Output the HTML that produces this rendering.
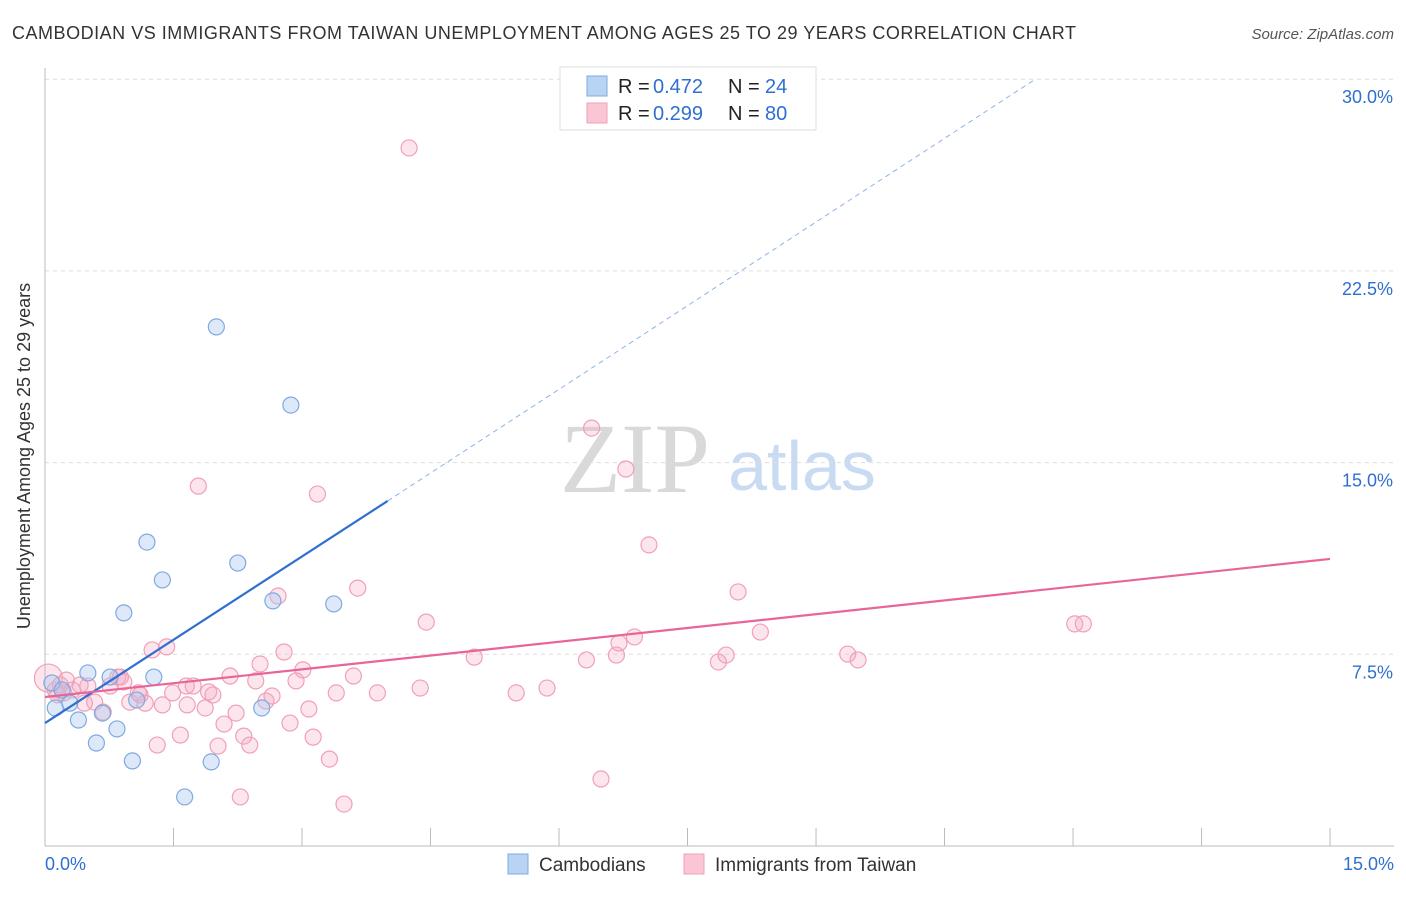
<!DOCTYPE html>
<html><head><meta charset="utf-8"><style>
body{margin:0;background:#fff;font-family:"Liberation Sans",sans-serif;}
</style></head><body>
<svg id="c" width="1406" height="892" font-family="Liberation Sans, sans-serif">
<text x="12" y="39" font-size="18" fill="#333" textLength="1064" lengthAdjust="spacing">CAMBODIAN VS IMMIGRANTS FROM TAIWAN UNEMPLOYMENT AMONG AGES 25 TO 29 YEARS CORRELATION CHART</text>
<text x="1394" y="39" font-size="15" fill="#555" font-style="italic" text-anchor="end">Source: ZipAtlas.com</text>
<text x="30" y="456" font-size="18" fill="#333" text-anchor="middle" transform="rotate(-90 30 456)">Unemployment Among Ages 25 to 29 years</text>
<g><text x="635" y="492" font-size="100" fill="#d9d9d9" style="font-family:'Liberation Serif',serif" text-anchor="middle">ZIP</text><text x="802" y="490" font-size="70" fill="#c8dbf2" text-anchor="middle">atlas</text></g>
<g id="grid"></g><g id="marks"></g>
<g>
<rect x="560" y="67" width="256" height="63" fill="#fff" stroke="#ddd"/>
<rect x="587" y="76" width="20" height="20" fill="#b9d3f5" stroke="#7fa9e0"/>
<rect x="587" y="103" width="20" height="20" fill="#fac6d6" stroke="#f0a0b8"/>
<text y="93" font-size="20" fill="#222"><tspan x="618">R =</tspan><tspan x="653" fill="#2f6fd0">0.472</tspan><tspan x="728">N =</tspan><tspan x="765" fill="#2f6fd0">24</tspan></text>
<text y="120" font-size="20" fill="#222"><tspan x="618">R =</tspan><tspan x="653" fill="#2f6fd0">0.299</tspan><tspan x="728">N =</tspan><tspan x="765" fill="#2f6fd0">80</tspan></text>
</g>
<g>
<rect x="508" y="854" width="20" height="20" fill="#b9d3f5" stroke="#7fa9e0"/>
<text x="539" y="871" font-size="19" fill="#333">Cambodians</text>
<rect x="684" y="854" width="20" height="20" fill="#fac6d6" stroke="#f0a0b8"/>
<text x="715" y="871" font-size="19" fill="#333">Immigrants from Taiwan</text>
</g>
</svg>
<script>
const yTicks=[7.5,15,22.5,30];
const yTickLabels=["7.5%","15.0%","22.5%","30.0%"];
const xTickCount=[0,1.5,3,4.5,6,7.5,9,10.5,12,13.5,15];
const blueX=[0.08,0.12,0.20,0.29,0.39,0.50,0.60,0.67,0.76,0.84,0.92,1.02,1.07,1.19,1.27,1.37,1.63,1.94,2.00,2.25,2.53,2.66,2.87,3.37];
const blueY=[6.38,5.40,6.10,5.59,4.93,6.77,4.03,5.20,6.61,4.58,9.12,3.33,5.71,11.89,6.61,10.41,1.92,3.29,20.31,11.07,5.40,9.59,17.25,9.47];
const pinkX=[0.04,0.12,0.18,0.25,0.32,0.41,0.50,0.58,0.68,0.76,0.85,0.92,0.99,1.09,1.17,1.25,1.31,1.37,1.42,1.49,1.58,1.65,1.73,1.79,1.87,1.91,1.96,2.02,2.09,2.16,2.23,2.28,2.32,2.39,2.46,2.51,2.58,2.65,2.72,2.79,2.86,2.93,3.01,3.08,3.13,3.18,3.32,3.40,3.49,3.60,3.65,3.88,4.25,4.38,4.45,5.01,5.50,5.86,6.32,6.38,6.49,6.67,6.70,6.78,6.88,7.05,7.86,7.95,8.09,8.35,9.37,9.49,12.02,12.12,0.15,0.46,1.11,1.66,0.88,0.22];
const pinkY=[6.57,6.10,6.30,6.49,6.10,6.30,6.26,5.63,5.24,6.26,6.61,6.42,5.63,5.99,5.59,7.67,3.95,5.52,7.79,5.99,4.34,6.26,6.26,14.08,5.40,6.03,5.91,3.91,4.77,6.65,5.20,1.92,4.30,3.95,6.46,7.12,5.67,5.87,9.78,7.59,4.81,6.46,6.89,5.36,4.26,13.77,3.40,5.99,1.64,6.65,10.09,5.99,27.31,6.18,8.76,7.39,5.99,6.18,7.28,16.35,2.62,7.47,7.94,14.75,8.18,11.78,7.20,7.47,9.94,8.37,7.51,7.28,8.69,8.69,5.91,5.59,5.91,5.52,6.61,5.99];
const blueLine=[0,4.81,4.0,13.5,11.56,30];
const pinkLine=[0,5.83,15,11.23];
const NS='http://www.w3.org/2000/svg';
const X=v=>45+v*85.67, Y=v=>846-v*25.56;
const grid=document.getElementById('grid'), marks=document.getElementById('marks');
function mk(tag,a,p){const e=document.createElementNS(NS,tag);for(const k in a)e.setAttribute(k,a[k]);p.appendChild(e);return e;}
yTicks.forEach((t,i)=>{
 const l=mk('line',{x1:45,x2:1394,y1:Y(t),y2:Y(t),stroke:'#ddd','stroke-dasharray':'4 4'},grid);
 
 
 const tx=mk('text',{x:1393,y:Y(t)+24,'font-size':18,fill:'#2f6fd0','text-anchor':'end'},grid);tx.textContent=yTickLabels[i];
 
 
});
const ax=mk('line',{x1:45,x2:1394,y1:846,y2:846,stroke:'#bbb'},grid);


const ay=mk('line',{x1:45,x2:45,y1:68,y2:846,stroke:'#bbb'},grid);


xTickCount.forEach(t=>{const l=mk('line',{x1:X(t),x2:X(t),y1:828,y2:846,stroke:'#bbb'},grid);
 
 });
[[0,'0.0%','start',45],[15,'15.0%','end',1394]].forEach(d=>{const t=mk('text',{x:d[3],y:870,'font-size':18,fill:'#2f6fd0','text-anchor':d[2]},grid);t.textContent=d[1];
 
 });
pinkX.forEach((x,i)=>{const c=mk('circle',{cx:X(x),cy:Y(pinkY[i]),r:i==0?14:8,fill:'rgba(245,170,195,0.3)',stroke:'#f0a0b8','stroke-width':1.2},marks);
 
 });
blueX.forEach((x,i)=>{const c=mk('circle',{cx:X(x),cy:Y(blueY[i]),r:8,fill:'rgba(170,200,240,0.4)',stroke:'#7fa9e0','stroke-width':1.2},marks);
 
 });
const b1=mk('line',{x1:X(blueLine[0]),y1:Y(blueLine[1]),x2:X(blueLine[2]),y2:Y(blueLine[3]),stroke:'#2f6fd0','stroke-width':2.2},marks);


const b2=mk('line',{x1:X(blueLine[2]),y1:Y(blueLine[3]),x2:X(blueLine[4]),y2:Y(blueLine[5]),stroke:'#8fb3e8','stroke-width':1,'stroke-dasharray':'5 4'},marks);


const p1=mk('line',{x1:X(pinkLine[0]),y1:Y(pinkLine[1]),x2:X(pinkLine[2]),y2:Y(pinkLine[3]),stroke:'#e8659a','stroke-width':2.2},marks);


</script>
</body></html>
